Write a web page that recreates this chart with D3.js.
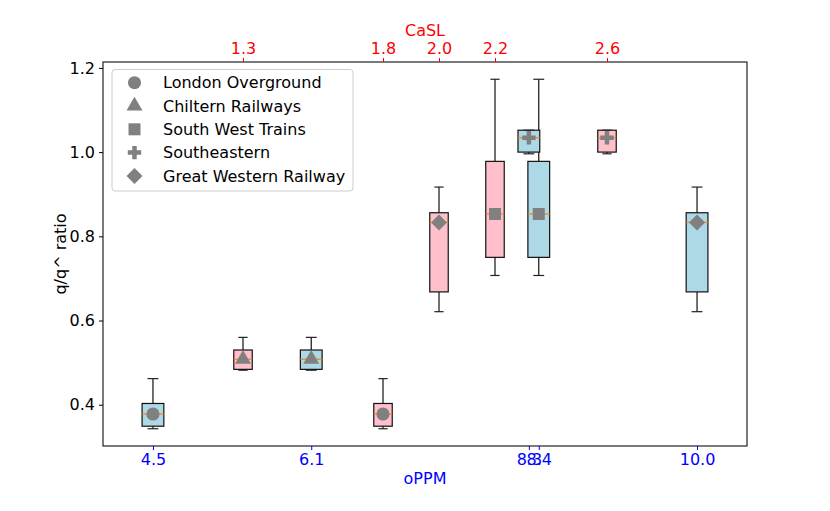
<html>
  <head>
    <script src="https://d3js.org/d3.v7.min.js"></script>
    <style>
      body { margin: 0; background: #fff; }
      text { font-family: "DejaVu Sans", sans-serif; }
    </style>
  </head>
  <body>
    <svg id="chart" width="830" height="511"></svg>
    <script>
      // one entry per operator
      var operators = ["London Overground", "Chiltern Railways", "South West Trains", "Southeastern", "Great Western Railway"];
      var oppm = [4.5, 6.1, 8.4, 8.3, 10.0];
      var casl = [1.8, 1.3, 2.2, 2.6, 2.0];
      var whiskerLow  = [0.343, 0.482, 0.707, 0.996, 0.621];
      var q1          = [0.349, 0.484, 0.750, 1.000, 0.668];
      var median      = [0.378, 0.508, 0.853, 1.034, 0.833];
      var q3          = [0.403, 0.530, 0.978, 1.052, 0.856];
      var whiskerHigh = [0.462, 0.560, 1.173, 1.052, 0.917];

      var oppmTicks = [4.5, 6.1, 8.3, 8.4, 10.0];
      var caslTicks = [1.3, 1.8, 2.0, 2.2, 2.6];
      var yTicks = [0.4, 0.6, 0.8, 1.0, 1.2];

      var margin = {left: 103, right: 83, top: 62, bottom: 65};
      var W = 830, H = 511;
      var fs = 16;
      var svg = d3.select("#chart");

      var xBottom = d3.scaleLinear().domain([3.995, 10.505]).range([margin.left, W - margin.right]);
      var xTop = d3.scaleLinear().domain([0.8, 3.1]).range([margin.left, W - margin.right]);
      var y = d3.scaleLinear().domain([0.302, 1.214]).range([H - margin.bottom, margin.top]);

      var shapes = [
        d3.symbol().type(d3.symbolCircle).size(135),
        d3.symbol().type(d3.symbolTriangle).size(110),
        d3.symbol().type(d3.symbolSquare).size(144),
        d3.symbol().type(d3.symbolCross).size(100),
        d3.symbol().type(d3.symbolSquare).size(128)
      ];
      var rotation = [0, 0, 0, 0, 45];

      function drawBoxes(scale, positions, width, fill) {
        var g = svg.append("g");
        operators.forEach(function(name, i) {
          var cx = scale(positions[i]);
          var half = (scale(positions[i] + width / 2) - scale(positions[i] - width / 2)) / 2;
          var cap = half / 2;
          var b = g.append("g");
          // whiskers
          b.append("line").attr("x1", cx).attr("x2", cx)
            .attr("y1", y(whiskerHigh[i])).attr("y2", y(q3[i]))
            .attr("stroke", "#111").attr("stroke-width", 1.2);
          b.append("line").attr("x1", cx).attr("x2", cx)
            .attr("y1", y(q1[i])).attr("y2", y(whiskerLow[i]))
            .attr("stroke", "#111").attr("stroke-width", 1.2);
          [whiskerHigh[i], whiskerLow[i]].forEach(function(v) {
            b.append("line").attr("x1", cx - cap).attr("x2", cx + cap)
              .attr("y1", y(v)).attr("y2", y(v))
              .attr("stroke", "#222").attr("stroke-width", 1.2);
          });
          b.append("rect")
            .attr("x", cx - half).attr("width", half * 2)
            .attr("y", y(q3[i])).attr("height", y(q1[i]) - y(q3[i]))
            .attr("fill", fill).attr("stroke", "#111").attr("stroke-width", 1.2);
          b.append("line").attr("x1", cx - half).attr("x2", cx + half)
            .attr("y1", y(median[i])).attr("y2", y(median[i]))
            .attr("stroke", "#ff7f0e").attr("stroke-width", 1.2);
          b.append("path")
            .attr("d", shapes[i]())
            .attr("transform", "translate(" + cx + "," + y(median[i]) + ") rotate(" + rotation[i] + ")")
            .attr("fill", "grey");
        });
      }

      drawBoxes(xBottom, oppm, 0.22, "lightblue");
      drawBoxes(xTop, casl, 0.066, "pink");

      // frame
      svg.append("rect")
        .attr("x", margin.left).attr("y", margin.top)
        .attr("width", W - margin.left - margin.right)
        .attr("height", H - margin.top - margin.bottom)
        .attr("fill", "none").attr("stroke", "#222").attr("stroke-width", 1.2);

      // axes
      var yAxis = svg.append("g")
        .attr("transform", "translate(" + margin.left + ",0)")
        .call(d3.axisLeft(y).tickValues(yTicks).tickFormat(d3.format(".1f")).tickSize(4).tickPadding(4));
      yAxis.select(".domain").remove();
      yAxis.selectAll("text").attr("font-size", fs).attr("fill", "#000");

      var bAxis = svg.append("g")
        .attr("transform", "translate(0," + (H - margin.bottom) + ")")
        .call(d3.axisBottom(xBottom).tickValues(oppmTicks).tickFormat(d3.format(".1f")).tickSize(4).tickPadding(4));
      bAxis.select(".domain").remove();
      bAxis.selectAll("line").attr("stroke", "blue");
      bAxis.selectAll("text").attr("font-size", fs).attr("fill", "blue");

      var tAxis = svg.append("g")
        .attr("transform", "translate(0," + margin.top + ")")
        .call(d3.axisTop(xTop).tickValues(caslTicks).tickFormat(d3.format(".1f")).tickSize(4).tickPadding(4));
      tAxis.select(".domain").remove();
      tAxis.selectAll("line").attr("stroke", "red");
      tAxis.selectAll("text").attr("font-size", fs).attr("fill", "red");

      var midX = (margin.left + W - margin.right) / 2;
      svg.append("text").attr("x", midX).attr("y", 484).attr("text-anchor", "middle")
        .attr("font-size", fs).attr("fill", "blue").text("oPPM");
      svg.append("text").attr("x", midX).attr("y", 36).attr("text-anchor", "middle")
        .attr("font-size", fs).attr("fill", "red").text("CaSL");
      svg.append("text")
        .attr("transform", "translate(66," + ((margin.top + H - margin.bottom) / 2) + ") rotate(-90)")
        .attr("text-anchor", "middle").attr("font-size", fs).attr("fill", "#000").text("q/q^ ratio");

      // legend
      var legend = svg.append("g");
      legend.append("rect")
        .attr("x", 112).attr("y", 69.5).attr("width", 241).attr("height", 121.5)
        .attr("rx", 3).attr("fill", "#fff").attr("fill-opacity", 0.8)
        .attr("stroke", "#ccc");
      operators.forEach(function(name, i) {
        var ly = 82.7 + i * 23.3;
        legend.append("path")
          .attr("d", shapes[i]())
          .attr("transform", "translate(134.5," + ly + ") rotate(" + rotation[i] + ")")
          .attr("fill", "grey");
        legend.append("text").attr("x", 163).attr("y", ly).attr("dy", "0.35em")
          .attr("font-size", fs).attr("fill", "#000").text(name);
      });
    </script>
  </body>
</html>
